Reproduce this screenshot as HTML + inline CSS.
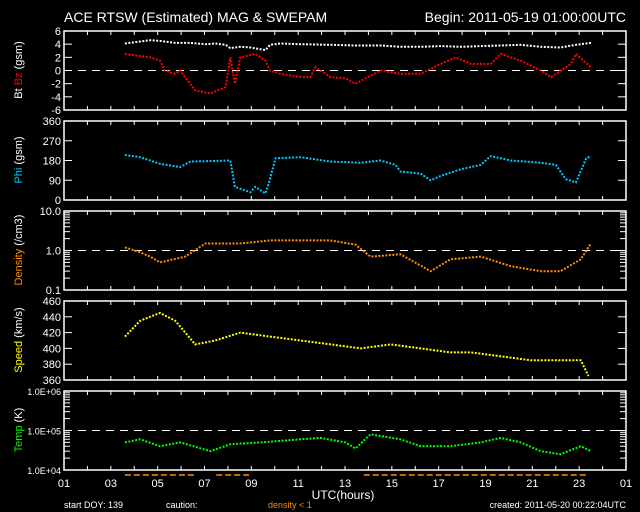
<!DOCTYPE html>
<html><head><meta charset="utf-8"><style>
html,body{margin:0;padding:0;background:#000;}
svg{display:block;font-family:"Liberation Sans",sans-serif;}
</style></head><body>
<svg id="chart" width="640" height="512" viewBox="0 0 640 512">
<text x="64" y="22" fill="#fff" font-size="14">ACE RTSW (Estimated) MAG &amp; SWEPAM</text>
<text x="626" y="22" fill="#fff" font-size="14" text-anchor="end">Begin: 2011-05-19 01:00:00UTC</text>
<text x="343" y="499" fill="#fff" font-size="12" text-anchor="middle">UTC(hours)</text>
<text x="64" y="508" fill="#fff" font-size="9">start DOY: 139</text>
<text x="166" y="508" fill="#fff" font-size="9">caution:</text>
<text x="268" y="508" fill="#ff8c00" font-size="9">density &lt; 1</text>
<text x="626" y="508" fill="#fff" font-size="9" text-anchor="end">created: 2011-05-20 00:22:04UTC</text>
<g id="plots"></g>
</svg>
<script>
const btTimes=[3.6,4.25,4.68,5.1,5.75,6.4,7.03,7.46,7.9,8.1,8.53,8.96,9.6,9.8,10.24,11.1,12.38,13.45,14.52,15.37,16.23,17.09,17.94,18.8,19.65,20.5,21.36,22.2,22.86,23.5];
const btVals=[4.1,4.4,4.6,4.5,4.2,4.2,4.0,4.1,3.9,3.4,3.6,3.5,3.1,3.9,4.1,4.0,3.9,3.8,3.8,3.6,3.6,3.7,3.6,3.7,3.8,3.9,3.6,3.5,3.9,4.2];
const bzTimes=[3.6,4.25,4.68,5.1,5.3,5.75,5.96,6.6,7.25,7.9,8.1,8.3,8.53,9.17,9.6,9.8,10.24,11.1,11.52,11.74,12.38,13.02,13.45,14.52,15.37,16.23,17.09,17.73,18.37,19.22,19.65,20.5,21.36,21.8,22.65,22.86,23.5];
const bzVals=[2.5,2.2,2.0,1.5,0.0,-0.5,0.0,-3.0,-3.5,-2.5,2.0,-2.0,2.0,2.5,1.5,0.0,-0.5,-1.0,-1.0,0.5,-1.0,-1.2,-2.0,0.0,-0.5,-0.5,1.0,2.0,1.0,1.0,2.5,1.5,0.0,-1.0,1.0,2.5,0.5];
const phiTimes=[3.6,4.25,5.1,5.96,6.4,8.1,8.3,8.96,9.17,9.6,9.73,10.03,11.1,12.38,13.66,14.52,15.16,15.37,16.23,16.66,17.09,17.94,18.8,19.22,20.08,21.36,22.0,22.43,22.86,23.3,23.5];
const phiVals=[205,195,165,150,175,180,60,35,60,30,70,190,195,175,170,180,160,130,120,90,110,140,160,200,180,170,160,95,80,190,200];
const denTimes=[3.6,4.25,4.68,5.1,6.18,7.03,8.53,9.8,11.1,12.38,13.45,14.09,15.37,16.66,17.5,18.8,20.08,21.36,22.2,23.07,23.5];
const denVals=[1.2,0.9,0.7,0.5,0.7,1.5,1.5,1.8,1.8,1.8,1.4,0.7,0.8,0.3,0.6,0.7,0.4,0.3,0.3,0.6,1.5];
const spdTimes=[3.6,4.25,4.68,5.1,5.75,6.18,6.6,7.46,8.53,9.8,11.1,12.38,13.66,14.95,16.23,17.5,18.37,19.65,20.94,22.2,23.07,23.4];
const spdVals=[415,435,440,445,435,420,405,410,420,415,410,405,400,405,400,395,395,390,385,385,385,365];
const tmpTimes=[3.6,4.25,5.1,5.96,7.25,8.1,9.4,11.1,11.95,13.02,13.45,14.09,15.37,16.23,17.5,18.8,19.65,20.5,21.36,22.2,23.07,23.5];
const tmpVals=[5e4,6e4,4e4,5e4,3e4,4.5e4,5e4,6e4,6.5e4,5e4,3.5e4,8e4,6e4,4e4,4e4,5e4,6.5e4,5e4,3e4,2.5e4,4e4,3e4];
const xTickLabels=["01","03","05","07","09","11","13","15","17","19","21","23","01"];
const cautionStart=[3.6,7.5,13.8];
const cautionEnd=[6.6,8.9,23.3];

const NS="http://www.w3.org/2000/svg";
const g=document.getElementById('plots');
const X0=64,X1=626;
function xs(t){return X0+(t-1)*(X1-X0)/24;}
function mk(tag,attrs,parent){const e=document.createElementNS(NS,tag);for(const k in attrs)e.setAttribute(k,attrs[k]);(parent||g).appendChild(e);return e;}

const panels=[
 {top:31,bot:110,name:'mag',ys:v=>110-(v+6)/12*79,ticks:[[-6,'-6'],[-4,'-4'],[-2,'-2'],[0,'0'],[2,'2'],[4,'4'],[6,'6']],dash:0},
 {top:121,bot:200,name:'phi',ys:v=>200-v/360*79,ticks:[[0,'0'],[90,'90'],[180,'180'],[270,'270'],[360,'360']]},
 {top:211,bot:290,name:'density',ys:v=>290-(Math.log10(v)+1)/2*79,ticks:[[0.1,'0.1'],[1,'1.0'],[10,'10.0']],dash:1,log:true},
 {top:301,bot:380,name:'speed',ys:v=>380-(v-360)/100*79,ticks:[[360,'360'],[380,'380'],[400,'400'],[420,'420'],[440,'440'],[460,'460']]},
 {top:391,bot:470,name:'temp',ys:v=>470-(Math.log10(v)-4)/2*79,ticks:[[1e4,'1.0E+04'],[1e5,'1.0E+05'],[1e6,'1.0E+06']],dash:1e5,log:true}
];
panels.forEach(p=>{
 const fr=mk('rect',{x:X0,y:p.top,width:X1-X0,height:p.bot-p.top,fill:'none',stroke:'#fff','stroke-width':1.5});
 
 
 for(let h=1;h<=25;h++){const x=xs(h);
  mk('line',{x1:x,x2:x,y1:p.bot,y2:p.bot-4,stroke:'#fff'});
  mk('line',{x1:x,x2:x,y1:p.top,y2:p.top+4,stroke:'#fff'});}
 p.ticks.forEach(t=>{const y=p.ys(t[0]);
  mk('line',{x1:X0,x2:X0+8,y1:y,y2:y,stroke:'#fff'});
  mk('line',{x1:X1,x2:X1-8,y1:y,y2:y,stroke:'#fff'});
  const tx=mk('text',{x:X0-3,y:y+4,fill:'#fff','font-size':p.log&&p.name==='temp'?9:11,'text-anchor':'end'});
  tx.textContent=t[1];
  
  });
 if(p.log){for(let d=0;d<2;d++){const b=p.ticks[d][0];for(let m=2;m<10;m++){const y=p.ys(b*m);
  mk('line',{x1:X0,x2:X0+6,y1:y,y2:y,stroke:'#fff'});mk('line',{x1:X1,x2:X1-6,y1:y,y2:y,stroke:'#fff'});}}}
 if(p.dash!==undefined){const y=p.ys(p.dash);mk('line',{x1:X0,x2:X1,y1:y,y2:y,stroke:'#fff','stroke-dasharray':'8 6'});}
});
xTickLabels.forEach((l,i)=>{const t=mk('text',{x:xs(1+i*2),y:487,fill:'#fff','font-size':11,'text-anchor':'middle'});t.textContent=l;
 
 });
function series(times,vals,p,color,name){
 const pts=times.map((t,i)=>xs(t).toFixed(1)+','+p.ys(vals[i]).toFixed(1)).join(' ');
 const l=mk('polyline',{points:pts,fill:'none',stroke:color,'stroke-width':2,'stroke-dasharray':'2 1.5'});
 
 
}
series(btTimes,btVals,panels[0],'#fff','bt-series');
series(bzTimes,bzVals,panels[0],'#ff0000','bz-series');
series(phiTimes,phiVals,panels[1],'#00c8ff','phi-series');
series(denTimes,denVals,panels[2],'#ff8c00','density-series');
series(spdTimes,spdVals,panels[3],'#ffff00','speed-series');
series(tmpTimes,tmpVals,panels[4],'#00ff00','temp-series');
cautionStart.forEach((s,i)=>{const l=mk('line',{x1:xs(s),x2:xs(cautionEnd[i]),y1:475,y2:475,stroke:'#ff8c00','stroke-width':1.5,'stroke-dasharray':'6 3'});
 
 });
function ylab(parts,y,name){const t=mk('text',{transform:`translate(22,${y}) rotate(-90)`,'font-size':11,'text-anchor':'middle'});
 
 
 parts.forEach(p=>{const s=mk('tspan',{fill:p[1]},t);s.textContent=p[0];});}
ylab([['Bt ','#fff'],['Bz ','#ff0000'],['(gsm)','#fff']],70,'mag-y-title');
ylab([['Phi ','#00c8ff'],['(gsm)','#fff']],160,'phi-y-title');
ylab([['Density ','#ff8c00'],['(/cm3)','#fff']],250,'density-y-title');
ylab([['Speed ','#ffff00'],['(km/s)','#fff']],340,'speed-y-title');
ylab([['Temp ','#00ff00'],['(K)','#fff']],430,'temp-y-title');
</script>
</body></html>
